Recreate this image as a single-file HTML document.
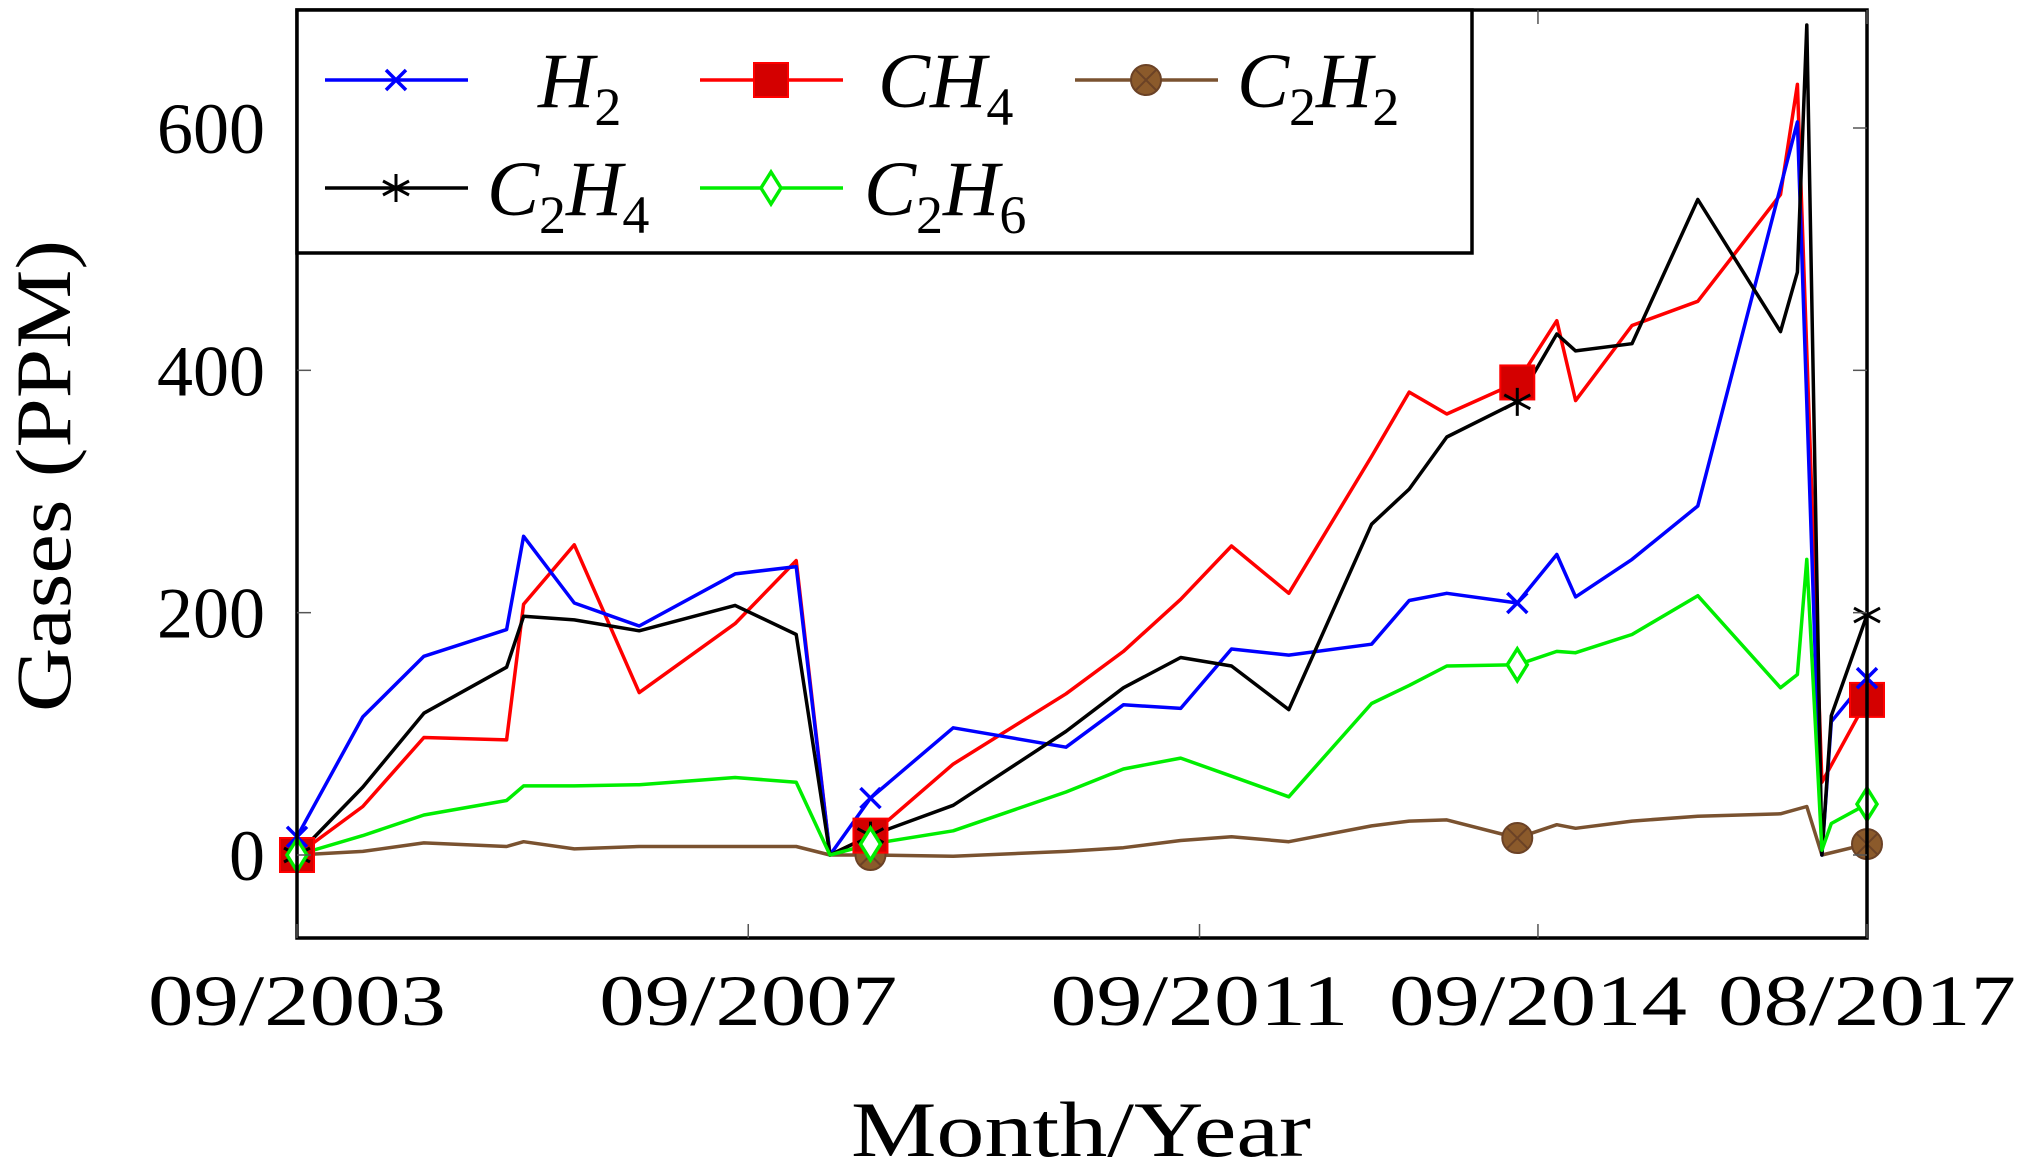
<!DOCTYPE html>
<html><head><meta charset="utf-8"><style>
html,body{margin:0;padding:0;background:#fff;}
svg{display:block;}
text{font-family:"Liberation Serif",serif;fill:#000;}
</style></head><body>
<svg id="chart" width="2021" height="1171" viewBox="0 0 2021 1171" xmlns="http://www.w3.org/2000/svg">
<g id="grid"></g>
<g id="series"></g>
<g id="axes"></g>
<g id="legend"></g>
</svg>
<script>
// months since 09/2003
const xTickMonths = [0, 48, 96, 132, 167];
const xTickLabels = ["09/2003", "09/2007", "09/2011", "09/2014", "08/2017"];
const yTicks = [0, 200, 400, 600];
const h2Months = [0,7,13.5,22.3,24.1,29.5,36.4,46.6,53.1,56.7,61,69.8,81.8,87.9,94,99.4,105.5,114.3,118.3,122.3,129.8,134,136,142,149,159.6,162.2,163.2,167];
const h2Values = [15,114,164,186,263,208,189,232,238,0,47,105,89,124,121,170,165,174,210,216,208,248,213,244,288,605,0,110,146];
const ch4Months = [0,7,13.5,22.3,24.1,29.5,36.4,46.6,53.1,56.7,61,69.8,81.8,87.9,94,99.4,105.5,114.3,118.3,122.3,129.8,134,136,142,149,157.8,159.6,162.2,167];
const ch4Values = [0,40,97,95,207,256,134,191,243,0,16,75,133,168,211,255,216,329,382,364,390,441,375,437,457,545,636,60,128];
const c2h2Months = [0,7,13.5,22.3,24.1,29.5,36.4,53.1,56.7,61,69.8,81.8,87.9,94,99.4,105.5,114.3,118.3,122.3,129.8,134,136,142,149,157.8,160.6,162.2,167];
const c2h2Values = [0,3,10,7,11,5,7,7,0,0,-1,3,6,12,15,11,24,28,29,14,25,22,28,32,34,40,0,9];
const c2h4Months = [0,7,13.5,22.3,24.1,29.5,36.4,46.6,53.1,56.7,61,69.8,81.8,87.9,94,99.4,105.5,114.3,118.3,122.3,129.8,134,136,142,149,157.8,159.6,160.6,162.2,163.2,167];
const c2h4Values = [0,56,117,155,197,194,185,206,182,0,16,41,102,138,163,156,120,273,302,345,374,430,416,422,541,432,481,685,0,115,198];
const c2h6Months = [0,7,13.5,22.3,24.1,29.5,36.4,46.6,53.1,56.7,61,69.8,81.8,87.9,94,99.4,105.5,114.3,118.3,122.3,129.8,134,136,142,149,157.8,159.6,160.6,162.2,163.2,167];
const c2h6Values = [0,16,33,45,57,57,58,64,60,0,9,20,52,71,80,65,48,125,140,156,157,168,167,182,214,138,149,244,4,26,42];
const markerMonths = [0, 61, 129.8, 167];

const L=297,R=1867,T=10,B=938;
const xs = m => L + (R-L)*m/167;
const ys = v => 855 - v*(855-128)/600;
const NS="http://www.w3.org/2000/svg";
function mk(tag, attrs, parent){const e=document.createElementNS(NS,tag);for(const k in attrs)e.setAttribute(k,attrs[k]);parent.appendChild(e);return e;}
const axes=document.getElementById('axes'), ser=document.getElementById('series'), leg=document.getElementById('legend');

function valAt(ms,vs,m){for(let i=0;i<ms.length;i++){if(Math.abs(ms[i]-m)<0.01)return vs[i];}for(let i=0;i<ms.length-1;i++){if(m>ms[i]&&m<ms[i+1])return vs[i]+(vs[i+1]-vs[i])*(m-ms[i])/(ms[i+1]-ms[i]);}return vs[vs.length-1];}

function marker(type,x,y,color,parent){
  let g=mk('g',{},parent);
  if(type==='x'){mk('path',{d:`M${x-10},${y-10}L${x+10},${y+10}M${x-10},${y+10}L${x+10},${y-10}`,stroke:color,'stroke-width':3.5,fill:'none'},g);}
  else if(type==='sq'){mk('rect',{x:x-17,y:y-17,width:34,height:34,fill:'#d40000',stroke:'#ff0000','stroke-width':2},g);}
  else if(type==='oc'){mk('circle',{cx:x,cy:y,r:15,fill:'#8b5a2b',stroke:'#6b4226','stroke-width':2},g);mk('path',{d:`M${x-10},${y-10}L${x+10},${y+10}M${x-10},${y+10}L${x+10},${y-10}`,stroke:'#6b4226','stroke-width':2},g);}
  else if(type==='star'){mk('path',{d:`M${x},${y-14}L${x},${y+14}M${x-13},${y-7}L${x+13},${y+7}M${x-13},${y+7}L${x+13},${y-7}`,stroke:color,'stroke-width':3,fill:'none'},g);}
  else if(type==='dia'){mk('path',{d:`M${x},${y-16}L${x+10},${y}L${x},${y+16}L${x-10},${y}Z`,stroke:'#00ee00','stroke-width':3.5,fill:'#fff'},g);}
  return g;
}

const seriesList=[
 ['h2-line','#0000ff',h2Months,h2Values,'x'],
 ['ch4-line','#ff0000',ch4Months,ch4Values,'sq'],
 ['c2h2-line','#7a5230',c2h2Months,c2h2Values,'oc'],
 ['c2h4-line','#000000',c2h4Months,c2h4Values,'star'],
 ['c2h6-line','#00ee00',c2h6Months,c2h6Values,'dia']];
const order=[2,1,0,3,4];
for(const i of order){
  const s=seriesList[i];
  const pts=s[2].map((m,j)=>xs(m).toFixed(1)+','+ys(s[3][j]).toFixed(1)).join(' ');
  const pl=mk('polyline',{points:pts,fill:'none',stroke:s[1],'stroke-width':3.5,'stroke-linejoin':'round'},ser);
  
  
}
for(const i of order){
  const s=seriesList[i];
  for(const m of markerMonths){
    const g=marker(s[4],xs(m),ys(valAt(s[2],s[3],m)),s[1],ser);
    
    
  }
}
const fr=mk('rect',{x:L,y:T,width:R-L,height:B-T,fill:'none',stroke:'#000','stroke-width':3.5},axes);


xTickMonths.forEach((m,i)=>{
  const x=xs(m);
  mk('line',{x1:x,y1:B,x2:x,y2:B-14,stroke:'#555','stroke-width':1.5},axes);
  mk('line',{x1:x,y1:T,x2:x,y2:T+14,stroke:'#555','stroke-width':1.5},axes);
  const t=mk('text',{x:x,y:1025,'text-anchor':'middle','font-size':72,textLength:298,lengthAdjust:'spacingAndGlyphs'},axes);
  t.textContent=xTickLabels[i];
  
  
});
yTicks.forEach(v=>{
  const y=ys(v);
  mk('line',{x1:L,y1:y,x2:L+14,y2:y,stroke:'#555','stroke-width':1.5},axes);
  mk('line',{x1:R,y1:y,x2:R-14,y2:y,stroke:'#555','stroke-width':1.5},axes);
  const t=mk('text',{x:265,y:y+25,'text-anchor':'end','font-size':72},axes);
  t.textContent=String(v);
  
  
});
const xt=mk('text',{x:1081,y:1156,'text-anchor':'middle','font-size':78,textLength:460,lengthAdjust:'spacingAndGlyphs'},axes);
xt.textContent='Month/Year';


const yt=mk('text',{x:0,y:0,'text-anchor':'middle','font-size':78,textLength:472,lengthAdjust:'spacingAndGlyphs',transform:'translate(70,476) rotate(-90)'},axes);
yt.textContent='Gases (PPM)';



const lb=mk('rect',{x:297,y:10,width:1175,height:243,fill:'#fff',stroke:'#000','stroke-width':3.5},leg);


const legItems=[
 [0,325,80,538],
 [1,700,80,878],
 [2,1075,80,1237],
 [3,325,188,487],
 [4,700,188,864]];
legItems.forEach(it=>{
  const s=seriesList[it[0]];
  const g=mk('g',{},leg);
  
  
  mk('line',{x1:it[1],y1:it[2],x2:it[1]+143,y2:it[2],stroke:s[1],'stroke-width':3.5},g);
  marker(s[4],it[1]+71,it[2],s[1],g);
  const t=mk('text',{x:it[3],y:it[2]+27,'font-size':78,'font-style':'italic'},g);
  const lbl={0:['H','2'],1:['CH','4'],2:['C','2','H','2'],3:['C','2','H','4'],4:['C','2','H','6']}[it[0]];
  lbl.forEach((p,k)=>{
    const sp=mk('tspan',{},t);
    if(k%2===1){sp.setAttribute('font-size','54');sp.setAttribute('font-style','normal');sp.setAttribute('dy','18');}
    else if(k>0){sp.setAttribute('dy','-18');}
    sp.textContent=p;
  });
});
</script>
</body></html>
